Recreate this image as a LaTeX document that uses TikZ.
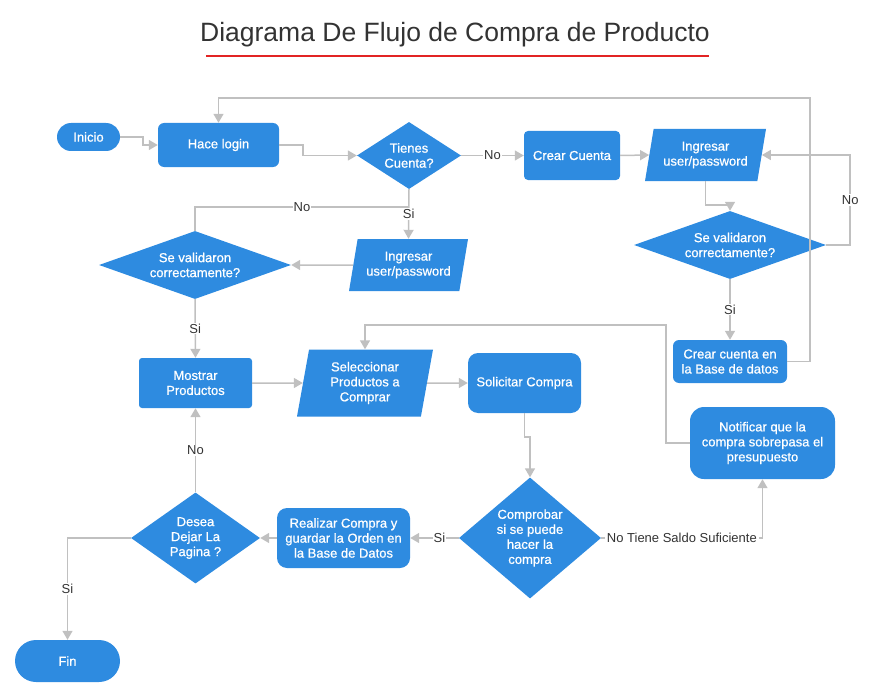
\documentclass[tikz,border=0pt]{standalone}
\usepackage{fontspec}
\setmainfont{Liberation Sans}
\newfontfamily\boxfont{Liberation Sans}[FakeBold=0.7]
\usepackage{tikz}
\usetikzlibrary{shapes.geometric, arrows.meta}

\definecolor{flowblue}{RGB}{46,139,224}
\definecolor{wiregray}{RGB}{192,192,192}
\definecolor{labelgray}{RGB}{51,51,51}
\definecolor{titlered}{RGB}{226,36,36}

\tikzset{
	base/.style={fill=flowblue, text=white, align=center, inner sep=0pt, font=\boxfont\fontsize{13}{15}\selectfont},
	pill/.style={base, rectangle, rounded corners=#1},
	proc/.style={base, rectangle, rounded corners=#1},
	proc/.default=5pt,
	io/.style={base, trapezium, trapezium left angle=#1, trapezium right angle=180-#1, trapezium stretches body},
	io/.default=72,
	dec/.style={base, diamond, shape aspect=#1},
	wire/.style={draw=wiregray, line width=1.5pt},
	conn/.style={wire, -{Triangle[width=10pt, length=9pt]}},
	lbl/.style={fill=white, text=labelgray, inner sep=1pt, font=\fontsize{13}{15}\selectfont}
}

\begin{document}
\begin{tikzpicture}[x=1pt, y=-1pt]
	\useasboundingbox (0, 0) rectangle (870, 698);
	% Title:
	\node[text=labelgray, font=\fontsize{26.5}{30}\selectfont] (title) at (455, 35) {Diagrama De Flujo de Compra de Producto};
	\draw[draw=titlered, line width=1.2pt] (206, 56) -- (709, 56);
	% Nodes:
	\node[pill=14pt, minimum width=63pt, minimum height=28pt] (inicio) at (88.5, 137) {Inicio};
	\node[proc=6pt, minimum width=121pt, minimum height=44pt] (login) at (218.5, 145) {Hace login};
	\node[dec=1.55, minimum width=104pt, minimum height=67pt] (tienes) at (409, 155.5) {Tienes\\Cuenta?};
	\node[proc=4pt, minimum width=96pt, minimum height=49pt] (crear) at (572, 155.5) {Crear Cuenta};
	\node[io, minimum width=121pt, minimum height=52pt] (ingA) at (705.5, 155) {Ingresar\\user/password};
	\node[dec=2.8, minimum width=192pt, minimum height=68pt] (valA) at (730, 245) {Se validaron\\correctamente?};
	\node[proc=6pt, minimum width=114pt, minimum height=43pt] (crearBD) at (730, 361.5) {Crear cuenta en\\la Base de datos};
	\node[io, minimum width=119pt, minimum height=52pt] (ingB) at (408.5, 265) {Ingresar\\user/password};
	\node[dec=2.8, minimum width=192pt, minimum height=68pt] (valB) at (195, 265) {Se validaron\\correctamente?};
	\node[proc=3pt, minimum width=113pt, minimum height=50pt] (mostrar) at (195.5, 383) {Mostrar\\Productos};
	\node[io=74, minimum width=136pt, minimum height=67pt] (selec) at (365, 383) {Seleccionar\\Productos a\\Comprar};
	\node[proc=10pt, minimum width=113pt, minimum height=60pt] (solic) at (524.5, 383) {Solicitar Compra};
	\node[proc=14pt, minimum width=145pt, minimum height=72pt] (notif) at (762.5, 443) {Notificar que la\\compra sobrepasa el\\presupuesto};
	\node[dec=1.18, minimum width=142pt, minimum height=121pt] (comp) at (530, 538) {Comprobar\\si se puede\\hacer la\\compra};
	\node[proc=10pt, minimum width=133pt, minimum height=60pt] (realiz) at (343.5, 538) {Realizar Compra y\\guardar la Orden en\\la Base de Datos};
	\node[dec=1.42, minimum width=129pt, minimum height=91pt] (desea) at (195.5, 538) {Desea\\Dejar La\\Pagina ?};
	\node[pill=21pt, minimum width=105pt, minimum height=42pt] (fin) at (67.5, 661) {Fin};
	% Connectors:
	\coordinate (backTop) at (810, 98);
	\coordinate (backMid) at (666, 325);
	\coordinate (joinSi) at (409, 207);
	\draw[conn] (inicio.east) -- ++(23, 0) |- (login.west);
	\draw[conn] (login.east) -- ++(24, 0) |- (tienes.west);
	\draw[conn] (tienes.east) -- node[lbl] {No} (crear.west);
	\draw[conn] (crear.east) -- (ingA.west);
	\draw[conn] (ingA.south) -- ++(0, 24) -| (valA.north);
	\draw[conn] (valA.east) -- ++(24, 0) |- node[lbl, pos=0.25] {No} (ingA.east);
	\draw[conn] (valA.south) -- node[lbl] {Si} (crearBD.north);
	\draw[conn] (crearBD.east) -| (backTop) -| (login.north);
	\draw[wire] (valB.north) |- node[lbl, pos=0.75] {No} (joinSi);
	\draw[conn] (tienes.south) -- node[lbl] {Si} (ingB.north);
	\draw[conn] (ingB.west) -- (valB.east);
	\draw[conn] (valB.south) -- node[lbl] {Si} (mostrar.north);
	\draw[conn] (mostrar.east) -- (selec.west);
	\draw[conn] (selec.east) -- (solic.west);
	\draw[conn] (solic.south) -- ++(0, 24) -| (comp.north);
	\draw[conn] (comp.east) -| node[lbl, pos=0.25, inner sep=2pt] {No Tiene Saldo Suficiente} (notif.south);
	\draw[conn] (notif.west) -| (backMid) -| (selec.north);
	\draw[conn] (comp.west) -- node[lbl, pos=0.4] {Si} (realiz.east);
	\draw[conn] (realiz.west) -- (desea.east);
	\draw[conn] (desea.north) -- node[lbl] {No} (mostrar.south);
	\draw[conn] (desea.west) -| node[lbl, pos=0.75] {Si} (fin.north);
\end{tikzpicture}
\end{document}
